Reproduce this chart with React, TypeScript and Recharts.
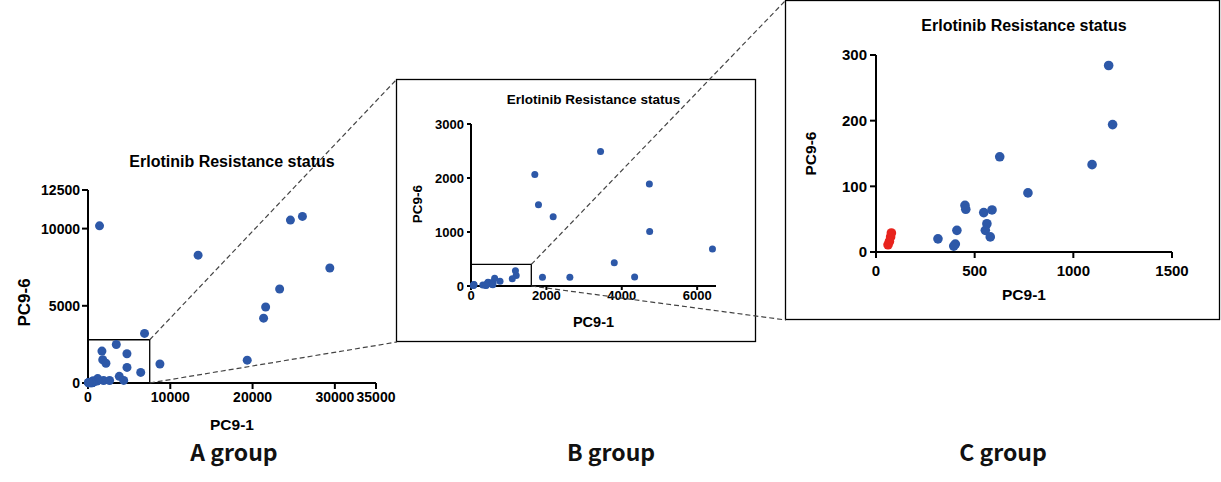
import { Label, ReferenceArea, Scatter, ScatterChart, XAxis, YAxis } from "recharts";

// values (PC9-1 on x, PC9-6 on y)
const wideX = [1400, 13380, 24600, 26060, 29390, 23290, 21590, 21340, 19350, 6870, 8740];
const wideY = [10180, 8280, 10550, 10790, 7450, 6090, 4920, 4200, 1480, 3210, 1230];
const midX = [3437, 1693, 1790, 2180, 4732, 4740, 6406, 3801, 4341, 1896, 2623];
const midY = [2490, 2065, 1503, 1281, 1891, 1011, 684, 431, 166, 160, 160];
const lowX = [1179, 1199, 1095, 627, 770, 451, 455, 546, 588, 562, 554, 579, 410, 314, 402, 394];
const lowY = [284, 194, 133, 145, 90, 71, 65, 60, 64, 43, 33, 23, 33, 20, 12, 9];
const sensX = [61, 74, 78, 68];
const sensY = [11, 23, 29, 16];

const groupLabels = ["A group", "B group", "C group"];
const chartTitle = "Erlotinib Resistance status";

const BLUE = "#2d58a8";
const RED = "#e8231d";
const FONT = "'Liberation Sans', Arial, sans-serif";

type Pt = { x: number; y: number };
const zip = (xs: number[], ys: number[]): Pt[] => xs.map((x, i) => ({ x, y: ys[i] }));

const resistant = [...zip(wideX, wideY), ...zip(midX, midY), ...zip(lowX, lowY)];
const sensitive = zip(sensX, sensY);

type Panel = {
  left: number;
  top: number;
  width: number;
  height: number;
  margin: { top: number; right: number; bottom: number; left: number };
  yAxisWidth: number;
  xAxisHeight: number;
  xDomain: [number, number];
  yDomain: [number, number];
  xTicks: number[];
  yTicks: number[];
  tickFont: number;
  tickSize: number;
  xTickMargin: number;
  yTickMargin: number;
  xTitleFont: number;
  yTitleFont: number;
  yTitleDx: number;
  yTitleDy: number;
  xTitleDy: number;
  titleFont: number;
  dotR: number;
  zoom?: [number, number];
  splitRed: boolean;
};

const panelA: Panel = {
  left: 0, top: 130, width: 400, height: 310,
  margin: { top: 60, right: 24, bottom: 0, left: 0 },
  yAxisWidth: 88, xAxisHeight: 57,
  xDomain: [0, 35000], yDomain: [0, 12500],
  xTicks: [0, 10000, 20000, 30000, 35000], yTicks: [0, 5000, 10000, 12500],
  tickFont: 14, tickSize: 6, xTickMargin: 3, yTickMargin: 2,
  xTitleFont: 15.5, yTitleFont: 17, yTitleDx: 24, yTitleDy: 16, xTitleDy: 47,
  titleFont: 16, dotR: 4.5, zoom: [7500, 2800], splitRed: false,
};

const panelB: Panel = {
  left: 397, top: 79, width: 359, height: 263,
  margin: { top: 45, right: 40, bottom: 0, left: 0 },
  yAxisWidth: 74, xAxisHeight: 56,
  xDomain: [0, 6500], yDomain: [0, 3000],
  xTicks: [0, 2000, 4000, 6000], yTicks: [0, 1000, 2000, 3000],
  tickFont: 13, tickSize: 4, xTickMargin: 1, yTickMargin: 3,
  xTitleFont: 14.5, yTitleFont: 13.5, yTitleDx: 20, yTitleDy: -1, xTitleDy: 41,
  titleFont: 13.5, dotR: 3.5, zoom: [1600, 400], splitRed: false,
};

const panelC: Panel = {
  left: 786, top: 0, width: 434, height: 320,
  margin: { top: 55, right: 48, bottom: 0, left: 0 },
  yAxisWidth: 90, xAxisHeight: 68,
  xDomain: [0, 1500], yDomain: [0, 300],
  xTicks: [0, 500, 1000, 1500], yTicks: [0, 100, 200, 300],
  tickFont: 15, tickSize: 6, xTickMargin: 7, yTickMargin: 3,
  xTitleFont: 15.5, yTitleFont: 15.5, yTitleDx: 24, yTitleDy: 0, xTitleDy: 48,
  titleFont: 16, dotR: 4.8, splitRed: true,
};

const panels = [panelA, panelB, panelC];

// plot-area geometry of a panel, in page pixels
function plotBox(p: Panel) {
  const x0 = p.left + p.margin.left + p.yAxisWidth;
  const x1 = p.left + p.width - p.margin.right;
  const y0 = p.top + p.margin.top;
  const y1 = p.top + p.height - p.margin.bottom - p.xAxisHeight;
  const sx = (v: number) => x0 + ((v - p.xDomain[0]) / (p.xDomain[1] - p.xDomain[0])) * (x1 - x0);
  const sy = (v: number) => y1 - ((v - p.yDomain[0]) / (p.yDomain[1] - p.yDomain[0])) * (y1 - y0);
  return { x0, x1, y0, y1, sx, sy };
}

const inside = (p: Panel) => (d: Pt) =>
  d.x >= p.xDomain[0] && d.x <= p.xDomain[1] && d.y >= p.yDomain[0] && d.y <= p.yDomain[1];

const dot = (r: number, color: string) => (props: any) =>
  <circle cx={props.cx} cy={props.cy} r={r} fill={color} />;

const yTitle = (p: Panel) => (props: any) => {
  const vb = props.viewBox ?? { x: 0, y: 0, width: 0, height: 0 };
  const cx = vb.x + p.yTitleDx;
  const cy = vb.y + vb.height / 2 + p.yTitleDy;
  return (
    <text
      x={cx}
      y={cy}
      transform={`rotate(-90 ${cx} ${cy})`}
      textAnchor="middle"
      dominantBaseline="central"
      fontFamily={FONT}
      fontWeight={700}
      fontSize={p.yTitleFont}
      fill="#000"
    >
      PC9-6
    </text>
  );
};

const xTitle = (p: Panel) => (props: any) => {
  const vb = props.viewBox ?? { x: 0, y: 0, width: 0, height: 0 };
  return (
    <text
      x={vb.x + vb.width / 2}
      y={vb.y + p.xTitleDy}
      textAnchor="middle"
      fontFamily={FONT}
      fontWeight={700}
      fontSize={p.xTitleFont}
      fill="#000"
    >
      PC9-1
    </text>
  );
};

function ScatterPanel({ p }: { p: Panel }) {
  const keep = inside(p);
  const blue = (p.splitRed ? resistant : [...resistant, ...sensitive]).filter(keep);
  const red = p.splitRed ? sensitive.filter(keep) : [];
  const tick = { fill: "#000", fontSize: p.tickFont, fontWeight: 700, fontFamily: FONT };
  const line = { stroke: "#000", strokeWidth: 2 };

  return (
    <div style={{ position: "absolute", left: p.left, top: p.top }}>
      <ScatterChart width={p.width} height={p.height} margin={p.margin}>
        <XAxis
          type="number"
          dataKey="x"
          domain={p.xDomain}
          ticks={p.xTicks}
          interval={0}
          height={p.xAxisHeight}
          tick={tick}
          tickSize={p.tickSize}
          tickMargin={p.xTickMargin}
          axisLine={line}
          tickLine={line}
        >
          <Label content={xTitle(p)} />
        </XAxis>
        <YAxis
          type="number"
          dataKey="y"
          domain={p.yDomain}
          ticks={p.yTicks}
          interval={0}
          width={p.yAxisWidth}
          tick={tick}
          tickSize={p.tickSize}
          tickMargin={p.yTickMargin}
          axisLine={line}
          tickLine={line}
        >
          <Label content={yTitle(p)} />
        </YAxis>
        {p.zoom && (
          <ReferenceArea
            x1={0}
            x2={p.zoom[0]}
            y1={0}
            y2={p.zoom[1]}
            fill="none"
            stroke="#000"
            strokeWidth={1.3}
            ifOverflow="visible"
          />
        )}
        <Scatter data={blue} shape={dot(p.dotR, BLUE)} isAnimationActive={false} />
        {red.length > 0 && <Scatter data={red} shape={dot(p.dotR, RED)} isAnimationActive={false} />}
      </ScatterChart>
    </div>
  );
}

export default function App() {
  const a = plotBox(panelA);
  const b = plotBox(panelB);
  const boxB = { x: panelB.left, y: panelB.top, w: panelB.width, h: panelB.height };
  const boxC = { x: panelC.left, y: panelC.top, w: panelC.width, h: panelC.height };
  const zA = panelA.zoom!;
  const zB = panelB.zoom!;
  const connectors = [
    [a.sx(zA[0]), a.sy(zA[1]), boxB.x, boxB.y],
    [a.sx(zA[0]), a.sy(0), boxB.x, boxB.y + boxB.h],
    [b.sx(zB[0]), b.sy(zB[1]), boxC.x, boxC.y],
    [b.sx(zB[0]), b.sy(0), boxC.x, boxC.y + boxC.h],
  ];
  const groupX = [234, 611, 1003];

  return (
    <div style={{ position: "absolute", left: 0, top: 0, width: 1221, height: 482, background: "#fff" }}>
      {panels.map((p, i) => (
        <ScatterPanel key={i} p={p} />
      ))}
      <svg
        width={1221}
        height={482}
        style={{ position: "absolute", left: 0, top: 0, pointerEvents: "none" }}
      >
        {[boxB, boxC].map((r, i) => (
          <rect key={i} x={r.x - 0.5} y={r.y + 0.5} width={r.w} height={r.h - 1} fill="none" stroke="#000" strokeWidth={1.3} />
        ))}
        {connectors.map(([x1, y1, x2, y2], i) => (
          <line key={i} x1={x1} y1={y1} x2={x2} y2={y2} stroke="#444" strokeWidth={1.2} strokeDasharray="5 3" />
        ))}
        {panels.map((p, i) => {
          const g = plotBox(p);
          const baseline = [167, 103.5, 30.5][i];
          return (
            <text
              key={i}
              x={(g.x0 + g.x1) / 2}
              y={baseline}
              textAnchor="middle"
              fontFamily={FONT}
              fontWeight={700}
              fontSize={p.titleFont}
              fill="#000"
            >
              {chartTitle}
            </text>
          );
        })}
        {groupLabels.map((t, i) => (
          <text
            key={t}
            x={groupX[i]}
            y={461}
            textAnchor="middle"
            fontFamily="'Noto Sans CJK KR', 'Noto Sans', sans-serif"
            fontWeight={700}
            fontSize={23}
            fill="#111"
          >
            {t}
          </text>
        ))}
      </svg>
    </div>
  );
}
